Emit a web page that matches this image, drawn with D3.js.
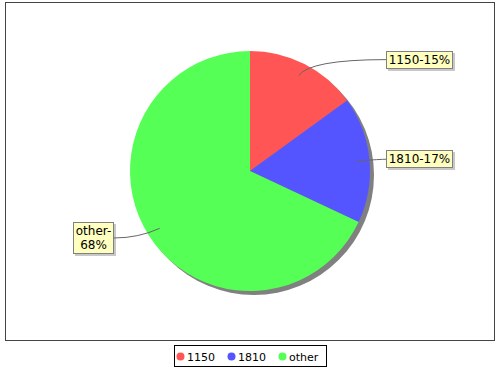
<!DOCTYPE html>
<html>
<head>
<meta charset="utf-8">
<script src="https://cdn.jsdelivr.net/npm/d3@7"></script>
<style>
  body { margin: 0; background: #fff; }
  svg { display: block; font-family: "DejaVu Sans", sans-serif; }
</style>
</head>
<body>
<div id="chart"></div>
<script>
const categories = ["1150", "1810", "other"];
const values = [15, 17, 68];
const colors = ["#ff5555", "#5555ff", "#55ff55"];
const labels = ["1150-15%", "1810-17%", "other-\n68%"];

const width = 500, height = 370;
const cx = 250, cy = 171, radius = 120;

const svg = d3.select("#chart").append("svg")
    .attr("width", width)
    .attr("height", height);

// plot area border
svg.append("rect")
    .attr("x", 5.5).attr("y", 2.5)
    .attr("width", 489).attr("height", 338)
    .attr("fill", "#fff")
    .attr("stroke", "#444")
    .attr("stroke-width", 1);

const pie = d3.pie().sort(null).value(d => d);
const arcs = pie(values);
const arc = d3.arc().innerRadius(0).outerRadius(radius);

const g = svg.append("g").attr("transform", `translate(${cx},${cy})`);

// shadow
g.append("circle")
    .attr("cx", 4).attr("cy", 4)
    .attr("r", radius)
    .attr("fill", "#808080");

g.selectAll(".slice")
    .data(arcs)
    .enter().append("path")
    .attr("class", "slice")
    .attr("d", arc)
    .attr("fill", (d, i) => colors[i]);

// labels with link lines
const labelR = 125, labelGap = 136, anchorR = 107;
arcs.forEach((d, i) => {
    const mid = (d.startAngle + d.endAngle) / 2;
    const right = Math.sin(mid) >= 0;
    const ax = anchorR * Math.sin(mid), ay = -anchorR * Math.cos(mid);
    const ly = -labelR * Math.cos(mid);
    const lines = labels[i].split("\n");
    const lineH = 14;
    const boxH = lines.length * lineH + 4;

    const grp = g.append("g");
    const text = grp.append("text")
        .attr("font-size", 12)
        .attr("fill", "#000")
        .attr("text-anchor", "middle");
    lines.forEach((s, k) => {
        text.append("tspan")
            .attr("x", 0)
            .attr("y", -boxH / 2 + 2 + lineH * (k + 1) - 3)
            .text(s);
    });
    const bw = Math.round(text.node().getBBox().width + 5);
    const bx = right ? labelGap : -labelGap - bw;
    grp.attr("transform", `translate(${bx + bw / 2},${Math.round(ly)})`);

    grp.insert("rect", "text")
        .attr("x", -bw / 2 + 2).attr("y", -boxH / 2 + 2)
        .attr("width", bw).attr("height", boxH)
        .attr("fill", "#c8c8c8");
    grp.insert("rect", "text")
        .attr("x", -bw / 2 + 0.5).attr("y", -boxH / 2 + 0.5)
        .attr("width", bw - 1).attr("height", boxH - 1)
        .attr("fill", "#ffffc0")
        .attr("stroke", "#808080");

    const ex = right ? labelGap : -labelGap;
    const kx = (radius + 12) * Math.sin(mid);
    g.append("path")
        .attr("d", `M${ax},${ay} Q${kx},${ly} ${ex},${ly}`)
        .attr("fill", "none")
        .attr("stroke", "#666")
        .attr("stroke-width", 1);
});

// legend
const legend = svg.append("g");
const items = legend.selectAll(".item")
    .data(categories)
    .enter().append("g")
    .attr("class", "item");
items.append("circle")
    .attr("r", 4)
    .attr("cy", 356.5)
    .attr("fill", (d, i) => colors[i]);
items.append("text")
    .attr("y", 360.5)
    .attr("font-size", 11)
    .attr("fill", "#000")
    .text(d => d);

let x = 180.5;
items.each(function () {
    const it = d3.select(this);
    it.select("circle").attr("cx", x);
    it.select("text").attr("x", x + 6.5);
    x += 6.5 + it.select("text").node().getComputedTextLength() + 16.5;
});
legend.insert("rect", ":first-child")
    .attr("x", 174.5)
    .attr("y", 345.5)
    .attr("width", 152)
    .attr("height", 21)
    .attr("fill", "#fff")
    .attr("stroke", "#000");
</script>
</body>
</html>
